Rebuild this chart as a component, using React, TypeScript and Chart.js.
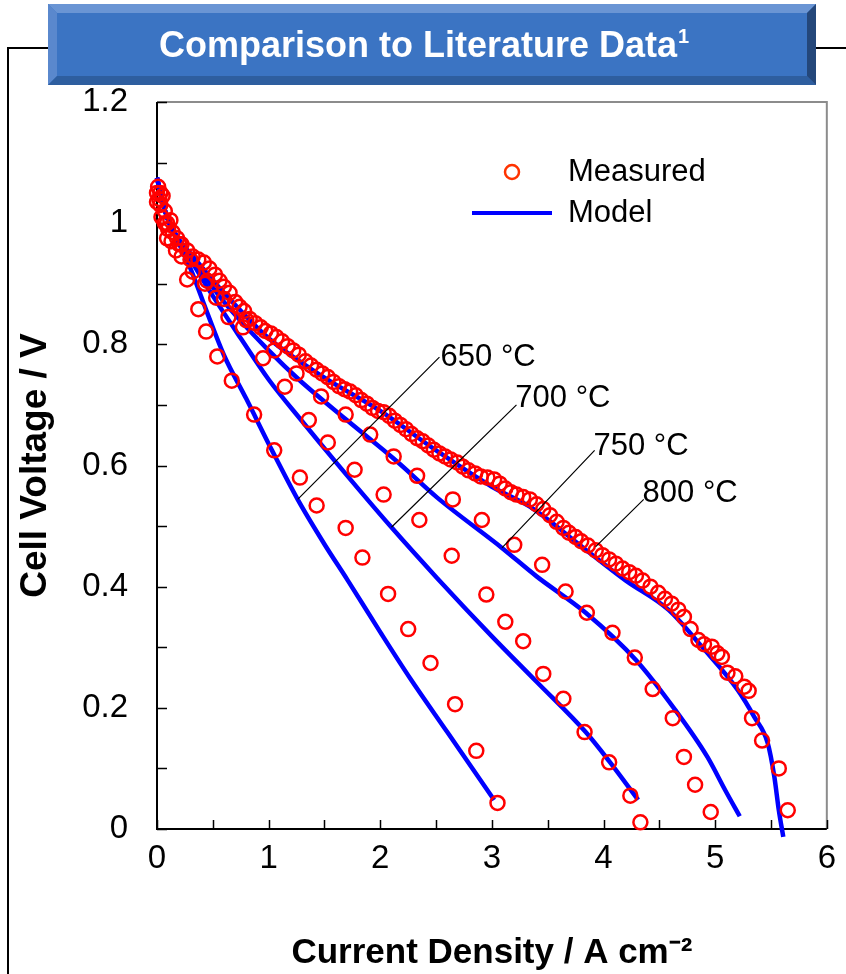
import React, { useEffect, useRef } from 'react';
import { Chart, registerables } from 'chart.js';

Chart.register(...registerables);

// ---------- data ----------
const xTickValues = [0, 0.5, 1, 1.5, 2, 2.5, 3, 3.5, 4, 4.5, 5, 5.5, 6];
const yTickValues = [0, 0.1, 0.2, 0.3, 0.4, 0.5, 0.6, 0.7, 0.8, 0.9, 1.0, 1.1, 1.2];

const temperatureLabels = ['650 °C', '700 °C', '750 °C', '800 °C'];

// Measured (circles)
const meas650X = [0.0, 0.04, 0.09, 0.17, 0.27, 0.37, 0.44, 0.54, 0.67, 0.87, 1.05, 1.28, 1.43, 1.69, 1.84, 2.07, 2.25, 2.45, 2.67, 2.86, 3.05];
const meas650Y = [1.05, 1.01, 0.975, 0.955, 0.907, 0.858, 0.821, 0.78, 0.74, 0.684, 0.625, 0.58, 0.534, 0.497, 0.448, 0.388, 0.33, 0.274, 0.206, 0.129, 0.043];

const meas700X = [0.02, 0.07, 0.13, 0.22, 0.32, 0.43, 0.53, 0.64, 0.77, 0.95, 1.145, 1.36, 1.53, 1.77, 2.03, 2.35, 2.64, 2.95, 3.12, 3.28, 3.46, 3.64, 3.83, 4.05, 4.24, 4.33];
const meas700Y = [1.04, 1.0, 0.97, 0.945, 0.92, 0.9, 0.877, 0.845, 0.828, 0.777, 0.73, 0.675, 0.638, 0.593, 0.552, 0.51, 0.451, 0.387, 0.342, 0.31, 0.256, 0.215, 0.16, 0.11, 0.055, 0.011];

const meas750X = [0.03, 0.1, 0.2, 0.3, 0.45, 0.6, 0.8, 1.05, 1.25, 1.47, 1.69, 1.91, 2.12, 2.33, 2.65, 2.91, 3.2, 3.45, 3.66, 3.85, 4.08, 4.28, 4.44, 4.62, 4.72, 4.82, 4.96];
const meas750Y = [1.03, 0.99, 0.965, 0.94, 0.905, 0.875, 0.84, 0.79, 0.752, 0.714, 0.684, 0.651, 0.615, 0.583, 0.544, 0.51, 0.469, 0.436, 0.392, 0.357, 0.324, 0.283, 0.231, 0.183, 0.119, 0.073, 0.028];

const meas800X = [0.01, 0.03, 0.0, 0.05, 0.07, 0.09, 0.12, 0.14, 0.18, 0.22, 0.27, 0.32, 0.37, 0.42, 0.47, 0.52, 0.56, 0.6, 0.65, 0.7, 0.74, 0.78, 0.83, 0.88, 0.93, 0.97, 1.02, 1.07, 1.12, 1.17, 1.22, 1.27, 1.33, 1.38, 1.43, 1.48, 1.53, 1.58, 1.63, 1.68, 1.73, 1.78, 1.83, 1.88, 1.93, 1.98, 2.03, 2.08, 2.13, 2.18, 2.23, 2.28, 2.33, 2.38, 2.43, 2.48, 2.53, 2.58, 2.63, 2.69, 2.74, 2.79, 2.85, 2.9, 2.96, 3.02, 3.07, 3.12, 3.17, 3.22, 3.28, 3.34, 3.4, 3.46, 3.52, 3.58, 3.64, 3.69, 3.75, 3.8, 3.86, 3.93, 3.99, 4.05, 4.11, 4.17, 4.23, 4.29, 4.35, 4.42, 4.49, 4.55, 4.61, 4.67, 4.72, 4.78, 4.85, 4.9, 4.97, 5.02, 5.06, 5.11, 5.18, 5.26, 5.3, 5.33, 5.42, 5.57, 5.65];
const meas800Y = [1.06, 1.05, 1.035, 1.045, 1.02, 1.0, 1.005, 0.985, 0.975, 0.965, 0.955, 0.945, 0.94, 0.935, 0.925, 0.915, 0.905, 0.895, 0.885, 0.87, 0.862, 0.855, 0.842, 0.835, 0.828, 0.822, 0.818, 0.812, 0.805, 0.797, 0.79, 0.783, 0.772, 0.765, 0.758, 0.752, 0.746, 0.738, 0.731, 0.726, 0.722, 0.716, 0.708, 0.702, 0.695, 0.69, 0.688, 0.682, 0.674, 0.667, 0.66, 0.652, 0.645, 0.64, 0.633, 0.626, 0.62, 0.615, 0.61, 0.605, 0.598, 0.592, 0.587, 0.582, 0.58, 0.577, 0.57, 0.562, 0.556, 0.552, 0.548, 0.544, 0.536, 0.528, 0.518, 0.507, 0.497, 0.489, 0.482, 0.475, 0.468, 0.46, 0.452, 0.445, 0.438, 0.43, 0.424, 0.418, 0.41, 0.4, 0.39, 0.38, 0.372, 0.362, 0.35, 0.33, 0.312, 0.305, 0.301, 0.29, 0.284, 0.258, 0.252, 0.235, 0.228, 0.183, 0.146, 0.1, 0.031];

// Model (lines)
const model650X = [0, 0.05, 0.1, 0.2, 0.3, 0.45, 0.6, 0.8, 1.03, 1.26, 1.5, 1.71, 2.0, 2.27, 2.6, 3.02];
const model650Y = [1.075, 1.035, 1.005, 0.965, 0.925, 0.852, 0.782, 0.71, 0.625, 0.544, 0.47, 0.41, 0.325, 0.248, 0.16, 0.048];

const model700X = [0, 0.05, 0.1, 0.2, 0.3, 0.5, 0.75, 1.0, 1.3, 1.6, 2.09, 2.51, 3.0, 3.4, 3.84, 4.05, 4.31];
const model700Y = [1.075, 1.035, 1.005, 0.97, 0.94, 0.88, 0.81, 0.742, 0.673, 0.606, 0.5, 0.414, 0.318, 0.243, 0.16, 0.112, 0.048];

const model750X = [0, 0.05, 0.1, 0.2, 0.3, 0.6, 1.0, 1.27, 1.7, 2.16, 2.51, 3.09, 3.4, 3.84, 4.29, 4.64, 4.93, 5.09, 5.22];
const model750Y = [1.075, 1.035, 1.005, 0.972, 0.945, 0.87, 0.79, 0.742, 0.675, 0.605, 0.547, 0.464, 0.417, 0.357, 0.279, 0.197, 0.119, 0.064, 0.021];

const model800X = [0, 0.05, 0.1, 0.2, 0.3, 0.6, 1.0, 1.5, 2.0, 2.5, 3.0, 3.34, 3.84, 4.2, 4.58, 4.88, 5.2, 5.35, 5.47, 5.53, 5.57, 5.61];
const model800Y = [1.075, 1.035, 1.005, 0.972, 0.95, 0.885, 0.81, 0.745, 0.69, 0.625, 0.565, 0.532, 0.461, 0.41, 0.362, 0.301, 0.23, 0.185, 0.142, 0.086, 0.031, -0.013];

// Annotation label anchors (data coords) and leader line ends
const labelAnchorX = [2.54, 3.21, 3.91, 4.35];
const labelAnchorY = [0.778, 0.71, 0.632, 0.554];
const leaderStartX = [2.53, 3.22, 3.92, 4.36];
const leaderStartY = [0.779, 0.70, 0.625, 0.544];
const leaderEndX = [1.26, 2.1, 3.09, 3.93];
const leaderEndY = [0.544, 0.498, 0.464, 0.466];

const FONT = "'Liberation Sans', Arial, sans-serif";

const zip = (xs: number[], ys: number[]) => xs.map((x, i) => ({ x, y: ys[i] }));

const decorPlugin = {
  id: 'decor',
  beforeDraw(chart: any) {
    const { ctx, width, height } = chart;
    ctx.save();
    ctx.fillStyle = '#ffffff';
    ctx.fillRect(0, 0, width, height);

    // outer frame lines
    ctx.strokeStyle = '#000000';
    ctx.lineWidth = 2;
    ctx.beginPath();
    ctx.moveTo(8, height);
    ctx.lineTo(8, 48);
    ctx.lineTo(50, 48);
    ctx.moveTo(814, 48);
    ctx.lineTo(width, 48);
    ctx.stroke();

    // banner
    const L = 48, T = 4, R = 816, B = 85, b = 9;
    ctx.fillStyle = '#3b74c3';
    ctx.fillRect(L, T, R - L, B - T);
    const poly = (pts: number[][], color: string) => {
      ctx.beginPath();
      ctx.moveTo(pts[0][0], pts[0][1]);
      for (let i = 1; i < pts.length; i++) ctx.lineTo(pts[i][0], pts[i][1]);
      ctx.closePath();
      ctx.fillStyle = color;
      ctx.fill();
    };
    poly([[L, T], [R, T], [R - b, T + b], [L + b, T + b]], '#6a95d4');
    poly([[L, T], [L + b, T + b], [L + b, B - b], [L, B]], '#5a88cd');
    poly([[L, B], [L + b, B - b], [R - b, B - b], [R, B]], '#2e5e9f');
    poly([[R, T], [R, B], [R - b, B - b], [R - b, T + b]], '#24477a');

    ctx.fillStyle = '#ffffff';
    ctx.textBaseline = 'alphabetic';
    ctx.textAlign = 'left';
    ctx.font = `bold 36px ${FONT}`;
    const main = 'Comparison to Literature Data';
    const w = ctx.measureText(main).width;
    const startX = 159;
    ctx.fillText(main, startX, 57);
    ctx.font = `bold 20px ${FONT}`;
    ctx.fillText('1', startX + w + 1, 43);
    ctx.restore();
  },
  beforeDatasetsDraw(chart: any) {
    const { ctx, chartArea: a, scales } = chart;
    const xs = scales.x, ys = scales.y;
    ctx.save();
    ctx.lineWidth = 2;
    ctx.strokeStyle = '#8c8c8c';
    ctx.beginPath();
    ctx.moveTo(a.left, a.top);
    ctx.lineTo(a.right, a.top);
    ctx.lineTo(a.right, a.bottom);
    ctx.stroke();
    ctx.strokeStyle = '#000000';
    ctx.beginPath();
    ctx.moveTo(a.left, a.top);
    ctx.lineTo(a.left, a.bottom);
    ctx.lineTo(a.right, a.bottom);
    ctx.stroke();
    ctx.lineWidth = 1.5;
    ctx.beginPath();
    xTickValues.forEach((v) => {
      const px = Math.round(xs.getPixelForValue(v)) + 0.5;
      ctx.moveTo(px, a.bottom);
      ctx.lineTo(px, a.bottom - 9);
    });
    yTickValues.forEach((v) => {
      const py = Math.round(ys.getPixelForValue(v)) + 0.5;
      ctx.moveTo(a.left, py);
      ctx.lineTo(a.left + 10, py);
    });
    ctx.stroke();
    ctx.restore();
  },
  afterDatasetsDraw(chart: any) {
    const { ctx, chartArea: a, scales } = chart;
    const xs = scales.x, ys = scales.y;
    ctx.save();
    // leader lines
    ctx.strokeStyle = '#000000';
    ctx.lineWidth = 1.2;
    ctx.beginPath();
    temperatureLabels.forEach((_, i) => {
      ctx.moveTo(xs.getPixelForValue(leaderStartX[i]), ys.getPixelForValue(leaderStartY[i]));
      ctx.lineTo(xs.getPixelForValue(leaderEndX[i]), ys.getPixelForValue(leaderEndY[i]));
    });
    ctx.stroke();
    ctx.fillStyle = '#000000';
    ctx.font = `31px ${FONT}`;
    ctx.textAlign = 'left';
    ctx.textBaseline = 'middle';
    temperatureLabels.forEach((t, i) => {
      ctx.fillText(t, xs.getPixelForValue(labelAnchorX[i]), ys.getPixelForValue(labelAnchorY[i]));
    });

    // legend
    const lx = a.left + 355;
    ctx.strokeStyle = '#ff3300';
    ctx.lineWidth = 2.5;
    ctx.beginPath();
    ctx.arc(lx, a.top + 70, 7, 0, Math.PI * 2);
    ctx.stroke();
    ctx.strokeStyle = '#0000ff';
    ctx.lineWidth = 4;
    ctx.beginPath();
    ctx.moveTo(lx - 40, a.top + 111);
    ctx.lineTo(lx + 40, a.top + 111);
    ctx.stroke();
    ctx.fillStyle = '#000000';
    ctx.font = `31px ${FONT}`;
    ctx.fillText('Measured', lx + 56, a.top + 70);
    ctx.fillText('Model', lx + 56, a.top + 111);
    ctx.restore();
  },
};

export default function App() {
  const canvasRef = useRef<HTMLCanvasElement | null>(null);

  useEffect(() => {
    const canvas = canvasRef.current;
    if (!canvas) return;

    const measuredStyle = {
      showLine: false,
      pointRadius: 7,
      pointBorderWidth: 2.5,
      pointBorderColor: '#ff0000',
      pointBackgroundColor: 'rgba(0,0,0,0)',
      pointHoverRadius: 7,
      clip: false,
      order: 0,
    };
    const modelStyle = {
      showLine: true,
      borderColor: '#0000ff',
      borderWidth: 4.5,
      pointRadius: 0,
      cubicInterpolationMode: 'monotone',
      fill: false,
      clip: false,
      order: 1,
    };

    const chart = new Chart(canvas, {
      type: 'scatter',
      data: {
        datasets: [
          { label: 'Measured 650 °C', data: zip(meas650X, meas650Y), ...measuredStyle },
          { label: 'Measured 700 °C', data: zip(meas700X, meas700Y), ...measuredStyle },
          { label: 'Measured 750 °C', data: zip(meas750X, meas750Y), ...measuredStyle },
          { label: 'Measured 800 °C', data: zip(meas800X, meas800Y), ...measuredStyle },
          { label: 'Model 650 °C', data: zip(model650X, model650Y), ...modelStyle },
          { label: 'Model 700 °C', data: zip(model700X, model700Y), ...modelStyle },
          { label: 'Model 750 °C', data: zip(model750X, model750Y), ...modelStyle },
          { label: 'Model 800 °C', data: zip(model800X, model800Y), ...modelStyle },
        ] as any,
      },
      options: {
        animation: false,
        responsive: false,
        devicePixelRatio: 1,
        layout: { padding: { top: 102, right: 13, left: 0, bottom: 0 } },
        plugins: {
          legend: { display: false },
          tooltip: { enabled: false },
          title: { display: false },
        },
        scales: {
          x: {
            type: 'linear',
            min: 0,
            max: 6,
            grid: { display: false, drawTicks: false },
            border: { display: false },
            ticks: {
              stepSize: 1,
              autoSkip: false,
              maxRotation: 0,
              padding: 10,
              color: '#000000',
              font: { family: FONT, size: 33 },
            },
            title: {
              display: true,
              text: 'Current Density / A cm⁻²',
              color: '#000000',
              font: { family: FONT, size: 35, weight: 'bold' },
              padding: { top: 0, bottom: 0 },
            },
            afterFit: (s: any) => {
              s.height = 145;
            },
          },
          y: {
            type: 'linear',
            min: 0,
            max: 1.2,
            grid: { display: false, drawTicks: false },
            border: { display: false },
            ticks: {
              stepSize: 0.2,
              padding: 29,
              color: '#000000',
              font: { family: FONT, size: 33 },
              callback: (v: any) => Number(v).toFixed(1).replace(/\.0$/, ''),
            },
            title: {
              display: true,
              text: 'Cell Voltage / V',
              color: '#000000',
              font: { family: FONT, size: 37, weight: 'bold' },
              padding: { top: 14, bottom: 0 },
            },
            afterFit: (s: any) => {
              s.width = 157;
            },
          },
        },
      } as any,
      plugins: [decorPlugin],
    });

    return () => chart.destroy();
  }, []);

  return (
    <div style={{ position: 'absolute', left: 0, top: 0, width: 846, height: 974, background: '#fff' }}>
      <canvas ref={canvasRef} width={846} height={974} style={{ display: 'block', width: 846, height: 974 }} />
    </div>
  );
}
